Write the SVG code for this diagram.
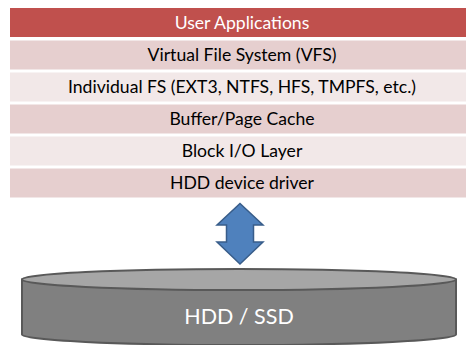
<svg xmlns="http://www.w3.org/2000/svg" width="466" height="345" viewBox="0 0 466 345">
<style>
.row{stroke:none}
.hdr{fill:#C0504D}
.b1{fill:#E6CFCF}
.b2{fill:#F2E8E8}
.t{font-family:Lato,"Liberation Sans",sans-serif;font-size:17.6px;text-anchor:middle;fill:#000}
.tw{fill:#FFFFFF}
.arrow{fill:#4F81BD;stroke:#385D8A;stroke-width:1.5}
.cyl{fill:#808080;stroke:#595959;stroke-width:2}
.cyltop{fill:#A6A6A6;stroke:#595959;stroke-width:2}
.big{font-family:Lato,"Liberation Sans",sans-serif;font-size:21.5px;text-anchor:middle;fill:#FFFFFF}
</style>
<rect width="466" height="345" fill="#FFFFFF"/>
<g id="user-applications"><rect class="row hdr" x="10" y="8" width="466" height="29"/><text class="t tw" x="242" y="28.5">User Applications</text></g>
<g id="vfs"><rect class="row b1" x="10" y="40.5" width="466" height="29"/><text class="t" x="242" y="61">Virtual File System (VFS)</text></g>
<g id="individual-fs"><rect class="row b2" x="10" y="72.5" width="466" height="29"/><text class="t" x="242" y="93">Individual FS (EXT3, NTFS, HFS, TMPFS, etc.)</text></g>
<g id="buffer-cache"><rect class="row b1" x="10" y="104.5" width="466" height="29"/><text class="t" x="242" y="125">Buffer/Page Cache</text></g>
<g id="block-io"><rect class="row b2" x="10" y="136.5" width="466" height="29"/><text class="t" x="242" y="157">Block I/O Layer</text></g>
<g id="hdd-driver"><rect class="row b1" x="10" y="168.5" width="466" height="29"/><text class="t" x="242" y="189">HDD device driver</text></g>
<g id="connectors"><path class="arrow" d="M240,203.5 L263,225 L253.5,225 L253.5,242 L263,242 L240,264 L217,242 L226.5,242 L226.5,225 L217,225 Z"/></g>
<g id="hdd-ssd">
<path class="cyl" d="M22,279.5 L22,334.5 A217,10.5 0 0 0 456,334.5 L456,279.5 Z"/>
<ellipse class="cyltop" cx="239" cy="279.5" rx="217" ry="10.5"/>
<text class="big" x="239" y="324">HDD / SSD</text>
</g>
</svg>
